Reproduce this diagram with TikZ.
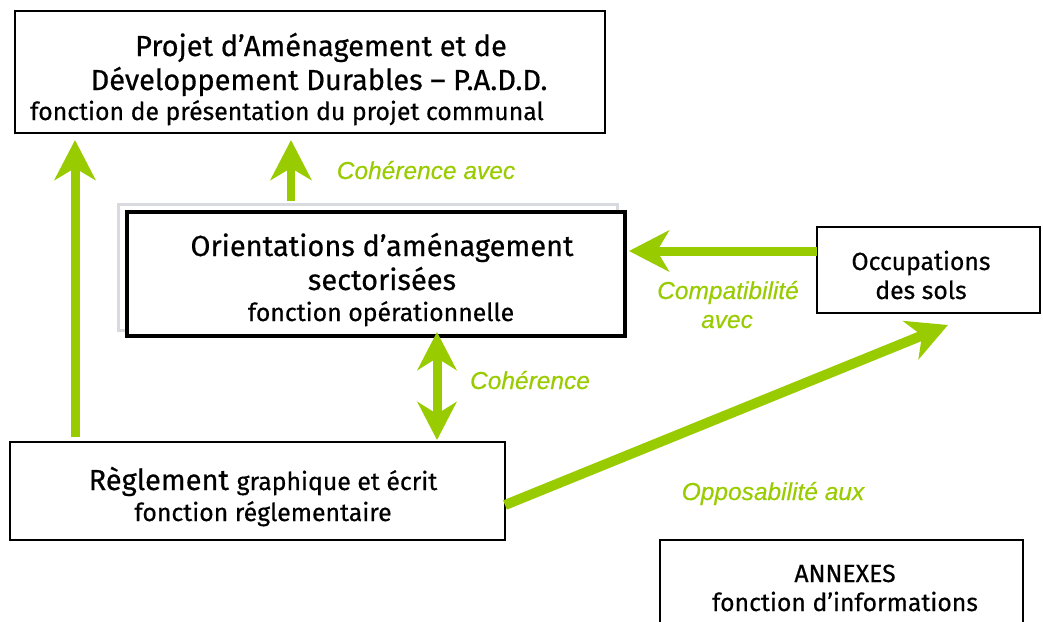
\documentclass[tikz,border=0pt]{standalone}
\usepackage{fontspec}
\setmainfont{Fira Sans}[FakeBold=0.5]
\newfontfamily\labfont{Liberation Sans}[ItalicFeatures={FakeBold=0.4}]
\usetikzlibrary{arrows.meta}
\definecolor{lgreen}{RGB}{153,204,0}
\definecolor{lgray}{RGB}{217,218,224}
\tikzset{
  box/.style={draw=black, line width=1.6pt, fill=white, inner sep=0pt},
  bigbox/.style={draw=black, line width=3.2pt, fill=white, inner sep=0pt},
  shadowbox/.style={draw=lgray, line width=3pt, inner sep=0pt},
  ttl/.style={font=\fontsize{29}{32}\selectfont, inner sep=0pt, anchor=base},
  sub/.style={font=\fontsize{24.8}{28}\selectfont, inner sep=0pt, anchor=base},
  lab/.style={font=\labfont\itshape\fontsize{24.5}{27}\selectfont, text=lgreen, inner sep=0pt, anchor=base},
  garrow/.style={draw=lgreen, line width=9pt, -{Stealth[length=40pt,width=41pt,inset=12pt]}},
  gdarrow/.style={draw=lgreen, line width=9pt, {Stealth[length=38pt,width=39pt,inset=12pt]}-{Stealth[length=38pt,width=39pt,inset=12pt]}}
}
\begin{document}
\begin{tikzpicture}[x=1pt,y=-1pt]
\useasboundingbox (0,0) rectangle (1043,621);
% boxes
\node[box, minimum width=590pt, minimum height=122pt] (padd) at (310,72) {};
\node[shadowbox, minimum width=499pt, minimum height=126pt] (oshadow) at (367.5,267) {};
\node[bigbox, minimum width=498pt, minimum height=124pt] (oas) at (376,274) {};
\node[box, minimum width=223pt, minimum height=86pt] (occ) at (928.5,270) {};
\node[box, minimum width=495pt, minimum height=98pt] (reg) at (257.5,491) {};
\node[box, minimum width=363pt, minimum height=120pt] (ann) at (841.5,600) {};
% texts (base anchors)
\node[ttl] (padd1) at (321,56) {Projet d’Aménagement et de};
\node[ttl] (padd2) at (319,90) {Développement Durables – P.A.D.D.};
\node[sub] (padd3) at (287,120) {fonction de présentation du projet communal};
\node[ttl] (oas1) at (382,256) {Orientations d’aménagement};
\node[ttl] (oas2) at (382,290) {sectorisées};
\node[sub] (oas3) at (381,321) {fonction opérationnelle};
\node[sub] (occ1) at (921,270) {Occupations};
\node[sub] (occ2) at (921,299) {des sols};
\node[ttl] (reg1) at (263,490) {Règlement {\fontsize{24.8}{28}\selectfont graphique et écrit}};
\node[sub] (reg2) at (263,521) {fonction réglementaire};
\node[sub] (ann1) at (845,582) {ANNEXES};
\node[sub] (ann2) at (845,611) {fonction d’informations};
% labels
\node[lab] (l1) at (426,179) {Cohérence avec};
\node[lab] (l2a) at (728,299) {Compatibilité};
\node[lab] (l2b) at (727,328) {avec};
\node[lab] (l3) at (530,389) {Cohérence};
\node[lab] (l4) at (773,500) {Opposabilité aux};
% connector endpoints
\coordinate (a1s) at (75,437);
\coordinate (a1e) at (75,140);
\coordinate (a2s) at (291,201);
\coordinate (a2e) at (291,140);
\coordinate (a3s) at (817,251);
\coordinate (a3e) at (629,251);
\coordinate (a4s) at (437,332);
\coordinate (a4e) at (437,440);
\coordinate (a5s) at (505,505);
\coordinate (a5e) at (948,325);
% arrows
\draw[garrow] (a1s) -- (a1e);
\draw[garrow, line width=8pt] (a2s) -- (a2e);
\draw[garrow] (a3s) -- (a3e);
\draw[gdarrow] (a4s) -- (a4e);
\draw[garrow, line width=10pt] (a5s) -- (a5e);
\end{tikzpicture}
\end{document}
